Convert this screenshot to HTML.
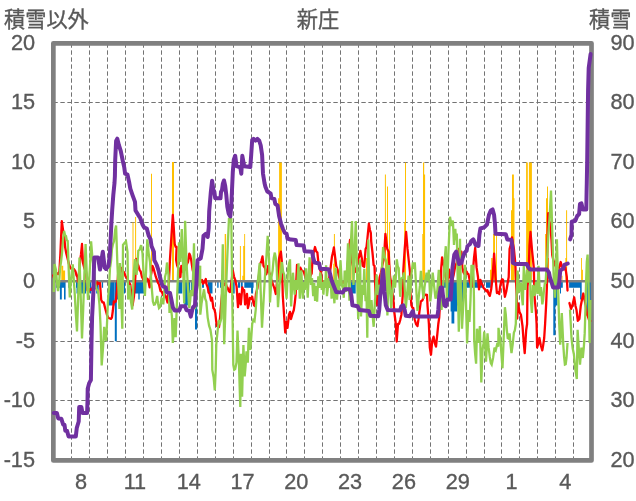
<!DOCTYPE html>
<html lang="ja"><head><meta charset="utf-8"><title>新庄</title>
<style>html,body{margin:0;padding:0;background:#fff}body{width:636px;height:501px;overflow:hidden}svg{display:block}text{font-family:"Liberation Sans","Noto Sans CJK JP",sans-serif;fill:#595959}.n{font-size:21.7px;stroke:#595959;stroke-width:.35}.t{font-size:21.2px;stroke:#595959;stroke-width:.35}</style></head><body>
<svg width="636" height="501" viewBox="0 0 636 501">
<rect width="636" height="501" fill="#fff"/>
<path d="M71.5 43.35V460.45M89.5 43.35V460.45M107.5 43.35V460.45M125.5 43.35V460.45M143.5 43.35V460.45M161.5 43.35V460.45M179.5 43.35V460.45M197.5 43.35V460.45M215.5 43.35V460.45M233.5 43.35V460.45M251.5 43.35V460.45M269.5 43.35V460.45M286.5 43.35V460.45M304.5 43.35V460.45M322.5 43.35V460.45M340.5 43.35V460.45M358.5 43.35V460.45M376.5 43.35V460.45M394.5 43.35V460.45M412.5 43.35V460.45M430.5 43.35V460.45M448.5 43.35V460.45M466.5 43.35V460.45M484.5 43.35V460.45M501.5 43.35V460.45M519.5 43.35V460.45M537.5 43.35V460.45M555.5 43.35V460.45M573.5 43.35V460.45" stroke="#737373" stroke-width="1" stroke-dasharray="4.4 2.6" fill="none"/>
<path d="M53.35 400.5H591.50M53.35 341.5H591.50M53.35 222.5H591.50M53.35 162.5H591.50M53.35 102.5H591.50" stroke="#737373" stroke-width="1" stroke-dasharray="4.4 2.6" fill="none"/>
<rect x="53.35" y="43.35" width="538.15" height="417.10" fill="none" stroke="#808080" stroke-width="4.7" stroke-linejoin="round"/>
<path d="M61.3 265.8h1.9V281.7h-1.9zM63.2 270.6h1.9V281.7h-1.9zM132.5 222.2h1.0V281.7h-1.0zM135.1 217.0h1.0V281.7h-1.0zM151.0 173.7h1.0V281.7h-1.0zM172.0 162.0h2.0V281.7h-2.0zM224.7 234.0h1.4V281.7h-1.4zM239.9 245.9h1.0V281.7h-1.0zM242.3 275.7h1.4V281.7h-1.4zM243.2 245.9h1.0V281.7h-1.0zM244.2 234.0h0.9V281.7h-0.9zM278.1 198.3h1.0V281.7h-1.0zM279.1 162.5h2.8V281.7h-2.8zM333.9 234.0h1.0V281.7h-1.0zM333.2 263.8h1.3V281.7h-1.3zM351.4 257.9h1.0V281.7h-1.0zM366.0 257.9h1.0V281.7h-1.0zM384.9 174.4h1.0V281.7h-1.0zM387.0 186.4h1.0V281.7h-1.0zM389.1 222.1h1.0V281.7h-1.0zM404.2 222.1h1.0V281.7h-1.0zM405.0 162.5h1.0V281.7h-1.0zM422.3 234.0h0.9V281.7h-0.9zM423.0 162.5h1.2V281.7h-1.2zM424.2 174.4h0.9V281.7h-0.9zM490.0 269.8h1.2V281.7h-1.2zM491.2 257.9h1.4V281.7h-1.4zM493.1 234.0h1.9V281.7h-1.9zM496.0 234.0h0.9V281.7h-0.9zM511.0 210.2h1.0V281.7h-1.0zM512.0 174.4h1.9V281.7h-1.9zM513.9 198.3h0.6V281.7h-0.6zM526.1 162.5h1.7V281.7h-1.7zM527.6 210.2h1.4V281.7h-1.4zM528.9 162.5h3.0V281.7h-3.0zM545.1 234.0h1.0V281.7h-1.0zM546.0 198.3h1.0V281.7h-1.0zM547.0 186.4h1.0V281.7h-1.0zM548.0 257.9h0.9V281.7h-0.9zM561.5 275.7h1.0V281.7h-1.0zM565.4 257.9h1.0V281.7h-1.0zM566.1 210.2h1.0V281.7h-1.0zM581.0 257.9h0.9V281.7h-0.9zM582.0 269.8h0.9V281.7h-0.9z" fill="#ffc000"/>
<path d="M56.1 281.7h9.0V287.7h-9.0zM59.9 281.7h1.9V299.6h-1.9zM64.0 281.7h1.6V299.6h-1.6zM68.2 281.7h1.3V287.7h-1.3zM76.0 281.7h1.3V287.7h-1.3zM80.8 281.7h1.1V287.7h-1.1zM89.9 281.7h1.3V293.6h-1.3zM94.0 281.7h1.0V293.6h-1.0zM96.2 281.7h2.5V293.6h-2.5zM101.8 281.7h1.3V287.7h-1.3zM108.5 281.7h1.5V293.6h-1.5zM110.0 281.7h4.5V305.5h-4.5zM114.8 281.7h2.0V341.3h-2.0zM116.8 281.7h1.2V299.6h-1.2zM123.7 281.7h1.4V293.6h-1.4zM137.4 281.7h3.7V293.6h-3.7zM138.3 281.7h1.4V299.6h-1.4zM177.5 281.7h4.8V293.6h-4.8zM184.2 281.7h3.7V305.5h-3.7zM187.9 281.7h2.1V293.6h-2.1zM190.8 281.7h2.8V293.6h-2.8zM195.0 281.7h2.2V329.4h-2.2zM202.0 281.7h2.0V287.7h-2.0zM207.7 281.7h4.8V293.6h-4.8zM217.2 281.7h1.4V287.7h-1.4zM220.0 281.7h1.9V287.7h-1.9zM232.8 281.7h1.9V293.6h-1.9zM238.0 281.7h2.0V287.7h-2.0zM240.8 281.7h1.9V287.7h-1.9zM248.4 281.7h5.2V287.7h-5.2zM251.2 281.7h1.9V293.6h-1.9zM256.0 281.7h1.8V287.7h-1.8zM338.5 281.7h1.3V287.7h-1.3zM351.0 281.7h4.7V293.6h-4.7zM440.5 281.7h7.2V287.7h-7.2zM458.5 281.7h11.5V287.7h-11.5zM447.7 281.7h2.9V299.6h-2.9zM450.6 281.7h6.6V311.5h-6.6zM451.5 281.7h2.8V323.4h-2.8zM457.2 281.7h1.3V293.6h-1.3zM466.6 281.7h3.4V287.7h-3.4zM470.0 281.7h13.0V287.7h-13.0zM486.0 281.7h4.8V287.7h-4.8zM553.6 281.7h3.8V305.5h-3.8zM553.3 281.7h2.1V335.3h-2.1zM560.0 281.7h2.8V287.7h-2.8zM560.0 281.7h1.0V293.6h-1.0zM569.1 281.7h12.6V287.7h-12.6zM580.1 281.7h1.6V299.6h-1.6zM587.0 281.7h3.6V315.1h-3.6zM76.5 281.7h9.5V293.6h-9.5zM108.2 281.7h1.8V305.5h-1.8zM135.0 281.7h9.3V293.6h-9.3zM244.3 281.7h5.7V287.7h-5.7zM457.2 281.7h6.3V305.5h-6.3z" fill="#0070c0"/>
<path d="M53.35 281.3H591.50" stroke="#808080" stroke-width="2.6" fill="none"/>
<polyline points="53.3,275.3 53.8,277.5 55.2,274.5 56.6,273.0 58.0,274.2 59.4,271.5 60.4,253.6 61.8,221.2 63.0,229.6 64.2,235.7 65.1,247.0 66.3,253.5 67.5,258.3 68.9,263.9 70.3,267.7 72.0,269.6 73.8,268.9 75.5,271.5 76.5,275.4 77.4,277.0 78.0,281.7 79.0,272.8 80.0,262.0 81.0,254.4 82.0,244.0 83.0,263.0 84.5,268.8 86.1,272.0 86.7,281.0 87.4,290.4 88.7,291.3 89.9,289.0 91.4,289.9 93.0,286.8 94.5,288.4 96.0,287.0 97.4,282.3 98.7,283.7 100.0,283.0 101.2,300.0 102.5,302.4 103.7,302.4 105.3,308.7 107.0,315.0 108.5,318.0 110.0,318.5 111.0,318.9 111.9,317.6 112.8,311.0 113.8,301.5 114.8,302.2 115.7,301.5 117.0,290.0 118.5,268.0 120.0,275.0 121.3,268.0 122.8,270.9 124.2,272.5 125.6,276.4 127.0,278.0 128.7,282.2 130.3,284.5 131.4,295.8 132.6,305.3 134.0,296.0 135.2,278.9 136.4,259.0 137.4,263.4 138.5,266.0 139.6,270.1 140.7,271.5 142.0,277.0 143.5,279.9 145.0,280.0 146.3,278.3 147.7,279.0 148.6,282.0 149.6,287.4 151.0,275.0 152.5,266.0 153.5,268.2 154.5,272.0 155.8,276.7 157.0,280.0 158.0,282.9 159.0,284.5 160.5,291.0 161.8,291.7 163.0,295.0 164.5,294.5 166.0,296.8 167.5,302.5 169.0,280.0 170.0,259.0 171.5,235.0 172.8,215.0 173.8,228.3 174.7,244.0 175.6,246.9 176.6,247.0 176.1,260.0 177.1,265.4 178.0,267.7 179.2,273.2 180.4,277.0 181.3,266.0 183.0,272.0 184.8,269.6 186.5,265.0 188.0,262.0 189.3,253.6 190.2,255.4 191.2,260.2 192.6,269.6 193.6,273.4 194.8,276.5 196.0,278.0 197.5,281.1 199.0,282.0 200.5,282.2 202.0,280.0 203.0,283.6 204.4,282.2 205.8,279.0 206.3,283.6 207.7,287.4 208.6,292.2 209.6,294.0 211.0,300.6 212.0,297.8 213.4,308.0 214.4,309.5 215.3,313.0 216.2,321.3 217.0,326.0 218.0,325.1 219.0,327.0 220.0,318.5 221.4,300.6 223.0,285.0 224.3,285.2 225.6,282.7 226.6,286.4 227.5,287.4 228.8,291.0 230.0,292.0 231.4,282.2 232.8,270.6 234.0,276.6 235.2,279.8 236.6,286.4 238.0,307.2 239.4,294.0 240.8,304.4 242.3,287.4 243.2,290.0 244.2,290.2 245.1,304.4 246.1,299.9 247.0,294.0 247.9,308.1 248.9,303.9 249.8,297.8 251.0,298.7 252.2,296.8 253.1,301.5 254.1,305.4 255.0,306.2 255.9,294.0 257.4,288.3 258.8,277.3 260.2,264.0 261.4,261.1 262.5,256.4 263.5,265.8 264.9,267.7 266.3,274.3 267.2,271.1 268.2,265.8 269.1,271.7 270.0,275.0 271.7,281.3 273.4,285.5 274.6,289.0 275.8,294.0 276.7,285.0 277.6,274.3 279.1,258.3 280.9,251.7 281.9,262.0 282.8,296.0 284.3,318.5 285.2,332.5 286.6,322.0 287.5,327.8 289.0,314.7 290.0,311.9 291.0,319.0 292.4,314.0 293.8,310.0 294.8,302.8 295.7,294.0 297.0,265.0 298.5,272.0 299.4,270.9 300.4,267.7 302.0,270.9 303.7,271.5 305.4,277.1 307.0,280.0 308.6,279.0 310.1,276.5 311.7,273.4 312.6,258.3 313.8,251.9 315.0,247.0 316.2,251.3 317.4,252.6 318.3,262.0 319.7,268.6 321.1,272.5 321.8,280.0 323.4,283.7 325.0,285.0 326.3,284.3 327.7,282.6 329.0,280.0 330.6,267.7 332.0,256.4 332.9,252.9 333.9,247.5 335.3,258.3 336.2,265.8 337.6,269.6 338.8,275.8 340.0,280.0 341.5,282.6 343.0,283.0 344.5,281.4 346.0,278.0 347.0,270.7 348.0,262.0 349.0,250.1 350.0,240.0 351.0,252.1 352.0,262.0 353.5,268.1 355.0,272.0 356.8,266.3 358.5,258.3 359.4,256.0 360.4,250.8 361.8,258.3 362.7,265.8 364.2,266.8 365.6,248.9 366.5,247.0 367.5,237.5 368.9,223.6 369.9,229.7 370.8,232.8 371.2,241.3 372.6,253.6 373.6,265.0 374.5,265.8 375.5,294.0 376.9,301.5 377.4,305.3 378.3,288.3 379.7,277.0 381.1,272.3 382.6,263.9 384.0,258.3 385.4,233.8 386.4,242.3 387.3,248.9 388.7,251.7 389.2,263.0 390.1,277.0 391.5,284.5 392.4,292.8 393.4,299.6 394.3,312.0 395.8,324.0 396.7,341.5 398.0,324.0 399.0,324.0 400.2,320.1 401.4,314.7 402.8,294.0 403.3,270.6 404.7,248.9 406.1,231.9 407.5,248.9 409.0,263.0 410.0,272.5 410.0,286.4 411.4,305.3 412.4,307.7 413.3,308.1 414.7,319.5 416.0,324.0 417.5,326.0 418.4,319.9 419.4,311.9 420.8,301.5 422.4,300.3 424.0,296.0 425.5,294.6 427.0,294.9 427.5,305.3 428.9,324.0 429.8,347.6 431.0,354.7 432.2,341.0 433.6,336.7 434.8,343.2 436.0,346.6 437.4,333.4 438.3,324.0 439.2,317.6 440.5,295.0 441.2,268.0 442.1,257.4 443.0,262.0 444.0,265.8 445.4,275.0 447.0,283.0 448.1,277.0 449.2,269.6 450.1,277.0 451.1,280.3 452.0,282.0 453.6,275.0 455.3,265.8 456.7,263.0 457.6,257.2 458.6,249.0 460.0,252.0 461.4,251.7 462.4,267.7 463.5,272.4 464.7,274.3 465.6,274.1 466.6,271.5 467.6,273.7 468.5,274.3 470.0,282.0 470.9,285.7 471.9,286.4 473.0,270.0 474.0,258.0 475.2,248.0 476.6,267.7 478.0,277.0 479.0,289.3 480.4,279.8 481.4,283.2 482.3,284.5 483.7,288.1 485.1,289.3 486.3,291.2 487.5,290.2 488.6,294.0 489.8,295.9 491.2,289.3 492.6,277.0 494.1,253.6 495.5,277.0 496.9,293.0 498.0,292.1 499.2,294.0 500.1,286.9 501.1,281.7 502.1,279.2 503.0,279.8 503.9,289.1 504.9,296.8 506.3,291.2 507.7,282.7 508.7,277.0 509.6,248.9 510.8,244.6 512.0,237.5 513.0,243.9 513.9,248.9 515.3,263.0 515.8,277.0 516.7,295.9 517.2,318.5 518.1,303.4 519.5,311.9 520.9,314.7 522.5,326.0 523.6,340.9 524.7,353.2 526.2,330.0 527.1,324.0 527.5,286.4 528.5,277.0 529.5,245.0 530.5,232.0 532.0,250.0 533.8,267.7 534.5,296.0 536.0,313.0 536.6,324.0 537.1,347.6 538.2,344.0 539.4,338.0 540.8,345.2 542.3,350.4 543.2,345.1 544.2,338.0 545.1,324.0 546.2,303.4 546.9,286.4 547.5,240.0 548.2,213.2 549.2,220.5 550.3,225.0 551.5,240.0 552.2,255.0 553.6,261.0 555.0,265.0 556.5,268.4 558.0,270.0 559.4,267.1 560.7,262.0 561.9,266.4 563.0,268.0 564.2,269.4 565.4,267.7 566.8,277.0 567.5,290.5" fill="none" stroke="#ff0000" stroke-width="2.3" stroke-linejoin="round" stroke-miterlimit="3" stroke-linecap="round"/>
<polyline points="569.4,303.0 571.0,309.0 572.5,305.0 574.2,297.4 575.5,306.0 576.5,310.0 577.8,320.8 579.4,318.9 580.7,306.3 581.9,300.0 583.3,293.5 584.7,300.6 585.7,305.3 587.1,314.7 588.0,316.6 589.1,320.1 590.3,321.0" fill="none" stroke="#ff0000" stroke-width="2.3" stroke-linejoin="round" stroke-miterlimit="3" stroke-linecap="round"/>
<polyline points="53.8,292.0 54.5,264.0 56.0,270.0 57.0,282.8 58.0,291.0 59.0,284.7 60.0,269.2 61.0,262.0 62.0,253.5 63.1,238.6 64.1,231.0 65.0,235.1 66.0,236.0 66.8,240.1 67.7,241.0 68.8,272.1 69.8,297.4 70.8,282.9 71.8,272.6 72.8,264.4 73.7,278.9 74.5,290.0 75.8,313.3 77.0,331.5 78.2,296.3 79.5,257.5 80.8,299.4 82.0,338.4 83.2,309.3 84.4,273.0 85.6,244.0 86.8,274.4 88.0,300.0 89.0,282.8 90.1,264.4 91.1,241.3 92.5,258.8 94.0,270.0 95.3,284.0 96.7,289.6 98.1,291.0 99.5,305.0 100.5,325.0 101.7,365.5 103.0,348.2 104.2,326.8 105.2,336.9 106.1,341.0 107.0,323.7 108.0,300.0 109.0,287.4 110.0,268.0 111.0,261.4 112.0,248.7 113.0,244.0 114.0,241.3 115.1,230.1 116.1,225.5 117.3,262.0 118.5,290.0 119.4,309.0 119.9,263.0 121.0,290.0 122.3,328.7 123.0,245.0 124.5,243.0 126.0,241.3 127.5,252.0 128.2,299.6 129.5,285.0 130.8,300.3 132.2,309.5 133.1,291.3 134.0,270.0 135.0,259.0 136.5,275.0 137.4,266.3 138.3,250.8 139.7,249.6 141.1,245.1 142.5,253.0 143.7,276.1 144.9,295.9 146.1,270.7 147.3,239.4 148.7,253.3 150.0,262.0 151.4,283.6 152.9,301.5 153.9,304.6 154.8,304.4 156.0,301.8 157.2,296.0 158.1,303.9 159.0,308.1 160.2,306.8 161.4,298.7 162.4,299.5 163.3,304.4 164.2,292.5 165.0,277.0 166.0,272.9 167.0,262.5 168.5,275.0 169.5,313.0 170.0,302.0 170.9,307.4 171.9,316.0 172.8,342.9 173.7,332.3 174.5,318.0 175.7,337.2 177.0,300.0 178.0,274.2 179.0,242.3 180.3,262.0 181.8,229.0 183.0,262.0 184.2,303.4 185.1,220.7 186.5,262.0 187.9,287.0 189.3,308.0 190.2,300.6 191.0,290.0 192.5,296.0 194.0,243.2 195.0,309.0 196.0,301.4 197.0,290.0 198.1,284.1 199.1,270.5 200.2,265.8 200.3,314.7 201.5,303.6 202.8,296.0 204.0,289.3 205.2,298.7 206.3,301.5 207.7,317.6 209.1,325.7 210.5,330.0 212.0,340.0 212.3,370.0 213.6,377.2 214.8,390.3 215.7,370.0 216.3,344.0 217.7,330.2 219.0,320.0 220.2,322.5 221.3,318.5 222.8,244.2 224.2,344.3 225.1,319.4 226.0,290.0 227.0,264.5 228.0,240.1 229.0,218.0 230.2,219.9 231.3,218.0 232.3,300.0 233.3,365.0 234.2,369.7 235.2,369.0 236.5,362.6 237.5,330.6 239.0,365.0 240.3,407.0 240.9,353.8 242.1,396.6 243.4,345.0 244.7,376.5 245.6,365.7 246.5,351.3 247.8,362.6 248.9,327.8 250.3,350.0 251.2,338.5 252.2,324.0 253.3,319.9 254.5,321.0 255.8,309.0 257.0,288.3 258.3,277.0 259.7,263.0 261.0,300.0 262.0,327.8 263.4,303.8 264.9,277.0 266.3,258.7 267.7,235.7 269.2,262.0 270.0,302.5 271.5,277.0 272.6,270.6 273.7,258.1 274.8,252.6 275.8,258.0 276.7,267.7 278.0,307.2 279.5,285.0 280.7,277.0 281.9,262.0 283.1,271.4 284.3,275.0 285.5,288.5 286.6,298.7 288.0,270.0 289.0,263.6 290.0,260.0 290.0,259.3 291.1,306.4 292.1,286.7 293.0,272.7 293.9,285.1 294.7,294.7 296.0,280.0 297.0,290.0 298.5,263.3 299.8,298.6 301.3,270.3 302.1,286.9 302.9,298.6 304.0,282.0 304.8,290.0 306.1,268.4 306.9,281.0 307.7,297.8 308.6,279.2 309.6,257.4 311.0,285.0 312.0,278.0 313.2,296.2 314.2,283.0 315.1,301.0 316.1,286.0 317.1,301.7 318.3,276.2 319.3,288.0 320.2,272.3 321.0,278.2 321.8,290.0 322.5,282.0 323.4,294.7 324.5,280.0 325.2,288.0 326.1,265.2 326.9,296.2 327.7,290.0 328.5,278.0 329.5,288.0 330.5,276.0 331.6,298.6 333.0,282.0 334.4,303.3 335.8,267.7 337.0,299.6 338.5,280.0 339.3,290.0 340.5,260.2 341.9,285.0 342.9,288.3 343.8,297.8 344.7,270.6 346.0,292.0 347.0,269.7 348.0,243.2 349.4,300.6 350.5,250.0 352.0,221.0 353.5,285.0 354.3,260.0 355.8,221.0 357.0,270.0 358.2,319.2 359.1,286.0 360.0,259.4 361.0,316.4 362.5,285.0 363.2,295.0 364.3,268.9 365.5,300.0 366.6,300.0 367.3,337.7 368.3,239.4 369.5,300.0 370.5,318.0 371.5,300.0 372.6,315.7 373.7,326.8 375.0,300.0 375.8,290.5 376.6,274.5 378.0,295.0 379.5,285.0 380.5,292.0 381.8,272.2 383.1,247.0 384.1,255.1 385.0,258.0 386.5,262.0 387.4,315.5 388.8,265.1 390.0,288.1 391.2,308.0 392.6,288.3 394.0,275.5 395.0,287.7 395.9,276.5 396.8,259.4 397.8,266.6 398.7,268.0 400.2,296.8 401.6,278.3 402.8,277.8 403.9,272.6 404.9,291.9 405.8,308.0 407.2,293.2 408.6,275.5 409.6,300.0 410.6,289.2 411.5,273.6 412.9,262.3 413.8,268.9 414.8,262.3 416.2,287.7 417.5,311.0 419.0,294.3 419.9,285.4 420.9,270.8 422.3,287.7 423.5,298.7 424.5,287.3 425.6,279.4 426.6,272.6 428.0,281.0 428.9,269.8 430.3,301.5 431.5,289.1 432.7,272.6 434.1,285.8 435.5,298.7 436.4,296.0 437.4,289.6 438.8,269.8 440.2,297.0 441.5,310.0 442.5,298.3 443.5,280.0 444.6,260.8 445.8,246.2 446.8,298.0 447.6,276.1 448.5,250.0 450.0,216.7 451.5,226.0 452.9,220.6 454.0,245.0 455.3,228.9 456.0,240.0 456.8,233.6 457.8,284.5 458.8,331.7 460.0,238.7 461.0,300.0 462.0,328.6 463.5,300.0 464.3,279.3 465.1,264.7 466.1,307.3 467.1,343.5 468.5,310.0 469.5,322.0 470.5,300.0 471.5,265.0 472.4,267.6 473.3,265.0 474.0,300.0 474.2,340.0 475.1,353.5 476.1,363.6 477.0,328.7 478.5,343.0 479.9,326.0 481.3,382.5 482.5,350.0 483.4,343.9 484.2,331.5 485.1,343.7 486.0,361.7 487.5,333.4 488.6,347.2 489.8,357.0 490.8,363.1 491.7,364.6 493.1,357.9 494.5,347.6 495.8,350.0 497.0,344.9 498.3,346.6 498.5,327.8 499.4,335.5 500.2,336.3 501.4,353.9 502.5,368.3 504.0,330.0 504.9,307.2 505.8,314.7 506.8,329.6 507.7,338.0 508.6,338.6 509.6,333.4 510.6,345.3 511.5,353.2 512.7,344.3 513.9,332.5 514.8,330.6 515.8,324.0 516.2,305.3 517.6,270.6 519.0,291.2 520.0,290.1 520.9,282.7 521.8,295.7 522.8,305.3 523.8,265.8 524.6,280.6 525.5,290.0 527.0,270.0 528.5,282.7 530.0,268.0 530.5,295.0 531.9,313.0 533.0,285.0 534.5,296.0 536.0,282.0 537.5,294.0 538.5,265.8 540.0,296.0 541.0,287.0 542.3,304.4 543.1,299.9 544.0,290.0 544.8,283.4 545.6,283.0 546.3,270.0 547.4,253.8 548.5,232.0 549.8,213.6 551.0,190.5 552.3,232.0 553.7,277.0 555.0,297.8 556.0,270.0 556.9,239.4 558.3,294.0 559.2,324.0 560.2,344.8 561.0,331.8 561.8,313.0 563.3,345.0 564.1,356.8 564.9,364.6 565.7,364.2 566.5,358.0 567.5,343.0" fill="none" stroke="#92d050" stroke-width="2.3" stroke-linejoin="miter" stroke-miterlimit="3" stroke-linecap="butt"/>
<polyline points="570.0,309.5 571.5,338.2 572.7,348.6 573.9,354.2 575.3,369.4 576.8,379.0 577.6,329.7 578.8,348.6 580.0,364.6 581.4,347.6 582.8,358.0 583.8,347.7 584.7,333.4 585.4,310.0 586.0,285.0 586.8,262.0 587.6,254.5 588.4,275.0 589.0,310.0 589.6,343.0 590.4,300.0" fill="none" stroke="#92d050" stroke-width="2.3" stroke-linejoin="miter" stroke-miterlimit="3" stroke-linecap="butt"/>
<polyline points="53.8,413.0 56.9,413.0 58.2,418.4 61.3,418.7 63.2,424.7 64.5,424.7 65.3,430.7 67.0,430.7 68.6,436.6 75.8,436.6 76.8,427.8 78.7,421.5 79.2,407.0 81.4,407.0 82.5,413.0 87.1,413.0 87.5,401.4 87.7,388.8 89.2,383.1 90.9,380.0 91.5,342.2 92.1,317.0 93.4,291.7 94.0,266.6 94.3,257.4 98.1,257.4 100.0,269.6 102.8,251.7 104.7,267.7 106.0,269.0 108.5,266.0 109.8,255.0 110.6,240.0 111.3,225.0 112.2,210.0 113.3,195.0 114.5,183.0 114.9,176.0 115.2,160.0 116.1,141.0 117.3,138.7 119.0,145.4 120.8,151.1 122.7,160.5 124.2,167.1 125.1,173.7 127.5,174.7 129.3,183.0 130.3,188.7 132.6,195.3 135.0,201.9 135.5,210.4 138.3,215.1 140.2,217.9 142.5,224.5 144.0,227.3 146.8,228.5 148.7,235.7 150.6,239.4 151.5,246.0 153.9,251.7 154.3,260.2 156.7,264.9 158.6,270.6 160.0,277.0 161.4,282.7 162.8,286.4 165.7,287.4 166.6,292.1 170.0,293.0 171.4,299.6 172.8,307.2 174.7,310.5 179.4,310.5 180.8,306.2 185.1,306.2 186.5,310.0 189.3,311.0 190.8,316.6 192.2,310.0 193.1,307.2 195.0,305.3 195.5,295.9 196.4,284.5 197.0,270.0 197.6,260.2 200.7,258.3 202.5,248.9 203.5,235.7 205.8,233.8 207.7,237.0 208.7,228.0 209.2,211.3 210.8,192.4 212.1,180.8 213.4,190.0 214.4,192.0 215.2,198.3 220.5,198.3 221.0,192.0 222.0,190.0 222.8,184.0 224.0,180.5 225.2,186.0 226.3,195.0 227.3,206.6 228.6,213.5 230.3,216.5 231.3,205.0 232.0,190.0 232.8,172.0 233.8,159.6 235.2,155.8 236.6,166.2 239.4,167.1 240.4,168.0 241.3,173.7 242.3,155.8 244.2,166.2 250.3,167.1 251.2,154.9 252.2,139.8 253.6,138.8 255.5,140.7 257.4,138.8 259.2,140.7 260.7,145.4 262.1,154.9 263.0,173.7 264.5,183.0 265.4,186.8 267.3,191.5 270.6,193.4 271.5,198.1 274.3,199.0 275.3,203.8 277.6,205.6 279.1,216.0 281.0,223.6 283.0,229.0 284.7,232.8 286.6,233.8 287.5,238.5 290.0,239.4 291.0,239.4 295.7,239.9 296.6,245.1 303.7,245.6 304.6,251.2 312.2,251.7 313.1,257.4 314.5,262.5 319.2,263.5 320.2,268.7 328.7,269.2 330.1,274.0 331.5,280.0 332.5,282.7 334.3,287.4 336.2,292.1 342.8,292.6 344.7,289.3 350.0,289.3 351.4,295.9 352.4,305.3 357.5,306.2 359.4,310.0 368.9,311.0 370.3,315.7 378.3,316.2 379.2,310.0 380.2,295.9 381.6,286.4 382.5,275.0 383.0,269.6 383.7,278.0 384.4,291.2 385.8,305.3 387.7,310.0 400.0,310.5 401.4,306.2 403.3,305.3 404.7,310.0 405.7,315.7 410.0,316.2 412.8,311.0 413.8,315.7 415.7,316.6 437.4,316.6 438.3,310.0 439.2,295.9 440.7,287.4 442.1,287.4 443.0,295.9 444.4,305.3 445.8,306.2 447.3,299.6 450.6,299.6 451.5,286.4 452.0,277.0 452.5,267.7 454.3,254.5 456.2,251.7 457.6,257.4 459.1,264.0 461.4,263.0 462.8,257.4 464.7,252.6 466.6,250.8 467.5,246.0 470.0,244.2 471.0,241.3 473.3,239.4 475.7,245.1 478.5,246.0 479.4,234.7 480.4,228.5 484.2,227.3 487.0,224.5 488.9,215.1 490.8,210.4 492.6,209.4 494.1,215.1 495.0,224.5 495.5,233.8 505.8,234.2 507.3,239.4 511.5,239.9 512.5,248.9 512.9,263.0 515.3,264.0 526.6,264.0 528.5,267.7 530.5,269.5 547.0,269.5 548.9,272.5 549.8,277.0 551.7,282.7 553.1,287.4 558.3,287.4 559.2,282.7 559.7,277.0 560.2,270.6 563.0,268.7 564.4,264.9 567.7,263.5" fill="none" stroke="#7030a0" stroke-width="4.0" stroke-linejoin="round" stroke-miterlimit="3" stroke-linecap="round"/>
<polyline points="570.1,239.4 571.5,234.7 571.7,221.7 575.3,220.7 577.2,216.0 579.1,214.1 580.0,203.8 581.4,203.3 582.8,209.4 586.3,209.4 586.6,192.4 586.8,183.0 587.2,160.0 587.7,120.0 588.1,90.0 588.7,68.0 590.6,54.0" fill="none" stroke="#7030a0" stroke-width="4.0" stroke-linejoin="round" stroke-miterlimit="3" stroke-linecap="round"/>
<text class="n" x="35" y="466.6" text-anchor="end">-15</text>
<text class="n" x="35" y="407.1" text-anchor="end">-10</text>
<text class="n" x="35" y="347.5" text-anchor="end">-5</text>
<text class="n" x="35" y="287.9" text-anchor="end">0</text>
<text class="n" x="35" y="228.3" text-anchor="end">5</text>
<text class="n" x="35" y="168.7" text-anchor="end">10</text>
<text class="n" x="35" y="109.1" text-anchor="end">15</text>
<text class="n" x="35" y="49.6" text-anchor="end">20</text>
<text class="n" x="610.4" y="466.6">20</text>
<text class="n" x="610.4" y="407.1">30</text>
<text class="n" x="610.4" y="347.5">40</text>
<text class="n" x="610.4" y="287.9">50</text>
<text class="n" x="610.4" y="228.3">60</text>
<text class="n" x="610.4" y="168.7">70</text>
<text class="n" x="610.4" y="109.1">80</text>
<text class="n" x="610.4" y="49.6">90</text>
<text class="n" x="81.1" y="488.8" text-anchor="middle">8</text>
<text class="n" x="134.9" y="488.8" text-anchor="middle">11</text>
<text class="n" x="188.7" y="488.8" text-anchor="middle">14</text>
<text class="n" x="242.5" y="488.8" text-anchor="middle">17</text>
<text class="n" x="296.3" y="488.8" text-anchor="middle">20</text>
<text class="n" x="350.1" y="488.8" text-anchor="middle">23</text>
<text class="n" x="403.9" y="488.8" text-anchor="middle">26</text>
<text class="n" x="457.8" y="488.8" text-anchor="middle">29</text>
<text class="n" x="511.6" y="488.8" text-anchor="middle">1</text>
<text class="n" x="565.4" y="488.8" text-anchor="middle">4</text>
<text class="t" x="4" y="27.3">積雪以外</text>
<text class="t" x="318" y="27.3" text-anchor="middle">新庄</text>
<text class="t" x="589" y="27.3">積雪</text>
</svg></body></html>
